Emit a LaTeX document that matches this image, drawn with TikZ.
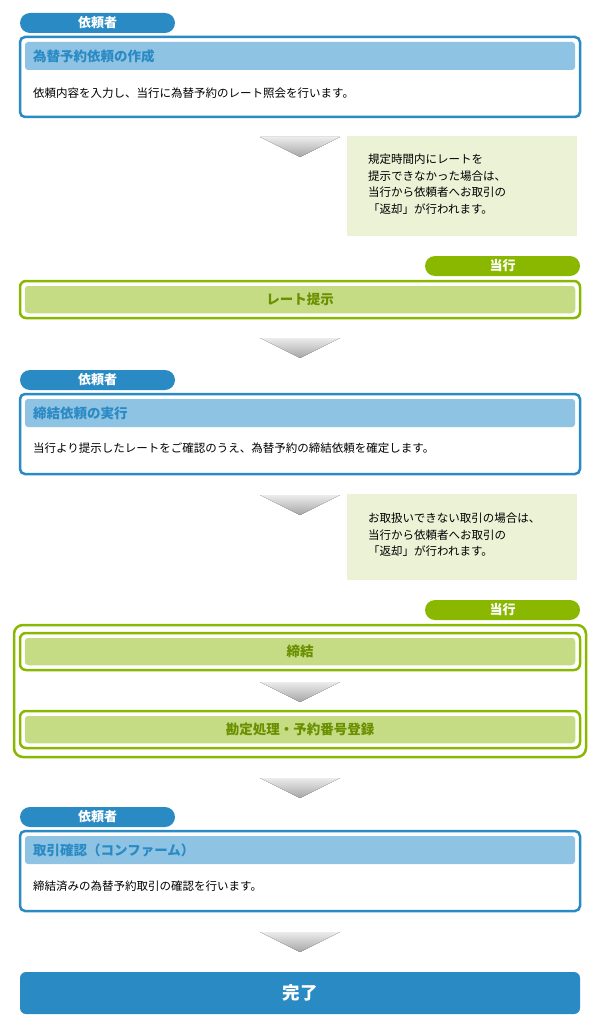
\documentclass[tikz,border=0pt]{standalone}
\usepackage{fontspec}
\setmainfont{Noto Sans CJK JP}
\definecolor{bl}{HTML}{2A8AC4}
\definecolor{blh}{HTML}{8FC3E3}
\definecolor{gr}{HTML}{8AB800}
\definecolor{grf}{HTML}{C5DC84}
\definecolor{grt}{HTML}{6A8F00}
\definecolor{nt}{HTML}{ECF2D6}
\newcommand{\myarrow}[2]{%
 \fill[top color=gray!15,bottom color=gray!70] (260,-#1) -- (340,-#1) -- (300,-#1-20) -- cycle;
 \coordinate (#2) at (300,-#1);}
\begin{document}
\begin{tikzpicture}[x=1pt,y=1pt,
 pillsty/.style={rounded corners=10pt,minimum width=155pt,minimum height=20pt,inner sep=0pt,text=white,font=\bfseries\fontsize{13}{14}\selectfont},
 bbox/.style={draw=bl,line width=2.5pt,rounded corners=5pt,fill=white},
 hbox/.style={fill=blh,rounded corners=3pt},
 htext/.style={anchor=west,text=bl,font=\bfseries\fontsize{13.5}{15}\selectfont,inner sep=0pt},
 btext/.style={anchor=west,font=\fontsize{11.5}{13}\selectfont,inner sep=0pt},
 gbox/.style={draw=gr,line width=2.5pt,rounded corners=6pt,fill=white},
 gin/.style={draw=white,line width=1.5pt,fill=grf,rounded corners=4pt},
 gtext/.style={text=grt,font=\bfseries\fontsize{13.5}{15}\selectfont,inner sep=0pt},
 ntext/.style={anchor=north west,align=left,font=\fontsize{11.5}{16.5}\selectfont,inner sep=0pt},
]
\useasboundingbox (0,0) rectangle (600,-1024);
% pills
\node[pillsty,fill=bl] (p1) at (97.5,-23) {依頼者};
\node[pillsty,fill=gr] (p2) at (502.5,-266) {当行};
\node[pillsty,fill=bl] (p3) at (97.5,-380) {依頼者};
\node[pillsty,fill=gr] (p4) at (502.5,-610) {当行};
\node[pillsty,fill=bl] (p5) at (97.5,-817) {依頼者};
% box 1
\draw[bbox] (20,-37) rectangle (580,-117);
\fill[hbox] (25,-42) rectangle (575,-70);
\node[htext] (h1) at (33,-56) {為替予約依頼の作成};
\node[btext] (b1) at (33,-93) {依頼内容を入力し、当行に為替予約のレート照会を行います。};
\myarrow{137}{a1}
\fill[nt] (347,-136) rectangle (577,-236);
\node[ntext] (n1) at (368,-154) {規定時間内にレートを\\提示できなかった場合は、\\当行から依頼者へお取引の\\「返却」が行われます。};
% green 1
\draw[gbox] (20,-281) rectangle (580,-318);
\draw[gin] (24,-285) rectangle (576,-314);
\node[gtext] (g1) at (300,-299.5) {レート提示};
\myarrow{338}{a2}
% box 2
\draw[bbox] (20,-394) rectangle (580,-474);
\fill[hbox] (25,-399) rectangle (575,-427);
\node[htext] (h2) at (33,-413) {締結依頼の実行};
\node[btext] (b2) at (33,-448) {当行より提示したレートをご確認のうえ、為替予約の締結依頼を確定します。};
\myarrow{495}{a3}
\fill[nt] (347,-494) rectangle (577,-580);
\node[ntext] (n2) at (368,-513) {お取扱いできない取引の場合は、\\当行から依頼者へお取引の\\「返却」が行われます。};
% green group
\draw[gbox,rounded corners=9pt] (14,-625) rectangle (586,-757);
\draw[gbox] (20,-633) rectangle (580,-670);
\draw[gin] (24,-637) rectangle (576,-666);
\node[gtext] (g2) at (300,-651.5) {締結};
\myarrow{682}{a4}
\draw[gbox] (20,-711) rectangle (580,-748);
\draw[gin] (24,-715) rectangle (576,-744);
\node[gtext] (g3) at (300,-729.5) {勘定処理・予約番号登録};
\myarrow{778}{a5}
% box 3
\draw[bbox] (20,-831) rectangle (580,-911);
\fill[hbox] (25,-836) rectangle (575,-864);
\node[htext] (h3) at (33,-850) {取引確認（コンファーム）};
\node[btext] (b3) at (33,-886) {締結済みの為替予約取引の確認を行います。};
\myarrow{932}{a6}
% done
\node[fill=bl,rounded corners=6pt,minimum width=560pt,minimum height=42pt,inner sep=0pt,text=white,font=\bfseries\fontsize{17.5}{19}\selectfont] (done) at (300,-993) {完了};
\end{tikzpicture}
\end{document}
